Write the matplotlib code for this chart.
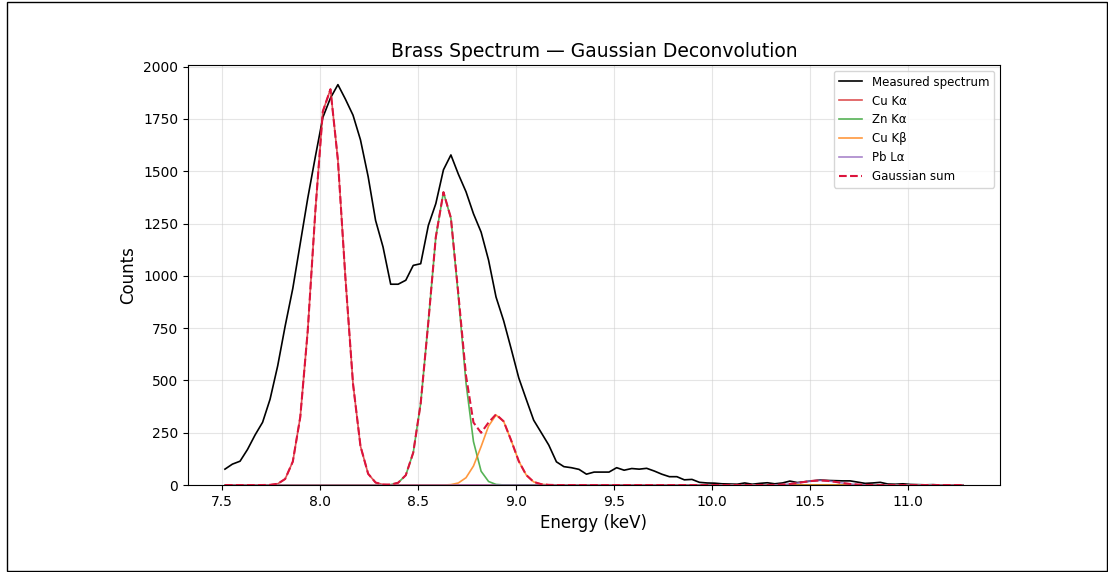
import numpy as np
import matplotlib
matplotlib.use("Agg")
import matplotlib.pyplot as plt
from matplotlib.patches import Rectangle

# Energy grid (keV)
energy = [7.517, 7.555, 7.594, 7.632, 7.671, 7.709, 7.747, 7.786, 7.824, 7.863,
          7.901, 7.939, 7.978, 8.016, 8.055, 8.093, 8.131, 8.170, 8.208, 8.247,
          8.285, 8.323, 8.362, 8.400, 8.439, 8.477, 8.515, 8.554, 8.592, 8.631,
          8.669, 8.707, 8.746, 8.784, 8.823, 8.861, 8.899, 8.938, 8.976, 9.015,
          9.053, 9.091, 9.130, 9.168, 9.207, 9.245, 9.283, 9.322, 9.360, 9.399,
          9.437, 9.475, 9.514, 9.552, 9.591, 9.629, 9.667, 9.706, 9.744, 9.783,
          9.821, 9.859, 9.898, 9.936, 9.975, 10.013, 10.051, 10.090, 10.128, 10.167,
          10.205, 10.243, 10.282, 10.320, 10.359, 10.397, 10.435, 10.474, 10.512, 10.551,
          10.589, 10.627, 10.666, 10.704, 10.743, 10.781, 10.819, 10.858, 10.896, 10.935,
          10.973, 11.011, 11.050, 11.088, 11.127, 11.165, 11.203, 11.242, 11.280]

measured = [76, 100, 114, 170, 240, 300, 410, 570, 760, 940,
            1155, 1370, 1570, 1757, 1850, 1914, 1845, 1768, 1650, 1475,
            1265, 1138, 960, 960, 979, 1050, 1058, 1241, 1345, 1507,
            1578, 1486, 1402, 1297, 1209, 1075, 899, 785, 652, 512,
            410, 310, 250, 191, 111, 88, 83, 75, 52, 62,
            62, 62, 83, 71, 79, 76, 80, 67, 52, 40,
            40, 25, 27, 13, 10, 9, 6, 5, 4, 10,
            4, 8, 11, 6, 10, 19, 12, 16, 20, 24,
            22, 21, 20, 20, 14, 8, 10, 13, 5, 4,
            6, 3, 2, 1, 2, 0, 1, 0, 0]

cu_ka = [0, 0, 0, 0, 0, 0.1, 0.9, 6, 29, 112,
         325, 736, 1311, 1786, 1892, 1553, 993, 484, 186, 54,
         12, 2.3, 0.3, 0, 0, 0, 0, 0, 0, 0] + [0] * 69

zn_ka = [0] * 21 + [0.3, 2, 11, 47, 155, 391, 780, 1185, 1400,
                    1275, 903, 488, 208, 66, 17, 3, 0.5] + [0] * 61

cu_kb = [0] * 30 + [2, 10, 35, 91, 184, 282, 335, 304, 214, 114,
                    48, 15, 4, 1] + [0] * 55

pb_la = [0] * 73 + [0.8, 2.2, 5.1, 9.6, 15.3, 20.0, 22.0, 20.1, 15.4, 9.7,
                    5.2, 2.3, 0.8, 0.2] + [0] * 12

labels = ["Cu Kα", "Zn Kα", "Cu Kβ", "Pb Lα"]
colors = ["tab:red", "tab:green", "tab:orange", "tab:purple"]

components = [np.array(c, dtype=float) for c in (cu_ka, zn_ka, cu_kb, pb_la)]
gauss_sum = np.sum(components, axis=0)

fig = plt.figure(figsize=(11.08, 5.72), dpi=100)
ax = fig.add_axes([0.1697, 0.152, 0.7328, 0.7344])

ax.plot(energy, measured, color="black", lw=1.2, label="Measured spectrum")
for comp, lab, col in zip(components, labels, colors):
    ax.plot(energy, comp, color=col, lw=1.2, alpha=0.8, label=lab)
ax.plot(energy, gauss_sum, color="crimson", lw=1.5, ls="--", label="Gaussian sum")

ax.set_ylim(0, 2008)
ax.set_xticks([7.5, 8.0, 8.5, 9.0, 9.5, 10.0, 10.5, 11.0])
ax.set_yticks(np.arange(0, 2001, 250))
ax.grid(True, color="#cccccc", alpha=0.5, lw=0.8)
ax.set_axisbelow(True)
ax.set_xlabel("Energy (keV)", fontsize=12)
ax.set_ylabel("Counts", fontsize=12)
ax.set_title("Brass Spectrum — Gaussian Deconvolution", fontsize=13.5)
ax.legend(loc="upper right", fontsize=8.5)

fig.patches.append(Rectangle((7 / 1108, 1.5 / 572), 1099.5 / 1108, 568.5 / 572,
                             transform=fig.transFigure, fill=False,
                             edgecolor="black", lw=1.0))

fig.savefig("out.png", dpi=100)
